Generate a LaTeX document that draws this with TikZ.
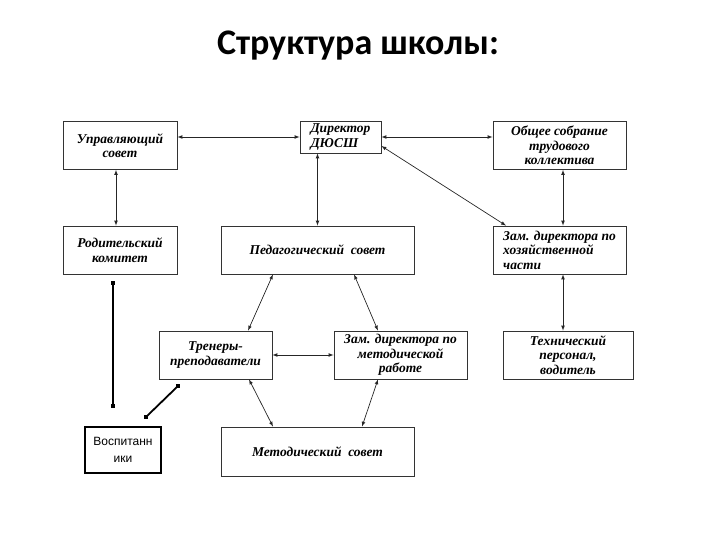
\documentclass[tikz,border=0pt]{standalone}
\usepackage{fontspec}
\setmainfont{Liberation Serif}
\newfontfamily\titlefont{Carlito}
\newfontfamily\plainfont{Liberation Sans}
\usetikzlibrary{arrows}

\begin{document}
\begin{tikzpicture}[x=1pt, y=-1pt]
					\tikzstyle{unit} = [draw=black!80, line width=0.8pt, font=\bfseries\itshape\fontsize{13.5}{14.5}\selectfont, align=center, inner sep=2pt, minimum height=48pt]
					\tikzstyle{link} = [latex-latex, black!85, line width=0.7pt]
					\tikzstyle{thickline} = [line width=1.8pt]
					\tikzstyle{endmark} = [fill=black, inner sep=0pt, minimum size=3.4pt]

					\useasboundingbox (0,0) rectangle (720,540);
					\node[font=\titlefont\bfseries\fontsize{36}{42}\selectfont] (title) at (358,46) {Структура школы:};

					\node[unit, minimum width=114pt] (upr) at (120,145.5) {Управляющий\\совет};
					\node[unit, minimum width=81pt, minimum height=32pt, align=left] (dir) at (340.5,137) {Директор\\ДЮСШ};
					\node[unit, minimum width=133pt] (obs) at (559.5,145.5) {Общее собрание\\трудового\\коллектива};
					\node[unit, minimum width=114pt] (rod) at (120,250) {Родительский\\комитет};
					\node[unit, minimum width=193pt] (ped) at (317.5,250) {Педагогический\ \ совет};
					\node[unit, minimum width=133pt, align=left] (zamh) at (559.5,250) {Зам. директора по\\хозяйственной\\части};
					\node[unit, minimum width=113pt] (tren) at (215.5,355) {Тренеры-\\преподаватели};
					\node[unit, minimum width=133pt] (zamm) at (400.5,355) {Зам. директора по\\методической\\работе};
					\node[unit, minimum width=130pt] (tech) at (568,355) {Технический\\персонал,\\водитель};
					\node[unit, minimum width=193pt, minimum height=49pt] (met) at (317.5,451.5) {Методический\ \ совет};
					\node[draw, line width=2pt, minimum width=76pt, minimum height=46pt, align=center, inner sep=2pt, font=\plainfont\fontsize{12}{17}\selectfont] (vosp) at (123,450) {Воспитанн\\ики};

					\draw[link] (upr.east |- dir.west) -- (dir.west);
					\draw[link] (dir.east) -- (obs.west |- dir.east);
					\draw[link] (dir.east |- 0,146) -- (zamh.north -| 506,0);
					\draw[link] (upr.south -| 116,0) -- (rod.north -| 116,0);
					\draw[link] (ped.north |- dir.south) -- (ped.north);
					\draw[link] (obs.south -| 563,0) -- (zamh.north -| 563,0);
					\draw[link] (zamh.south -| 563,0) -- (tech.north -| 563,0);
					\draw[link] (ped.south -| 273,0) -- (tren.north -| 248,0);
					\draw[link] (ped.south -| 354,0) -- (zamm.north -| 378,0);
					\draw[link] (tren.east) -- (zamm.west);
					\draw[link] (tren.south -| 249,0) -- (met.north -| 273,0);
					\draw[link] (zamm.south -| 378,0) -- (met.north -| 362,0);

					\coordinate (v1) at (113,283);
					\coordinate (v2) at (113,406);
					\coordinate (d1) at (178,386);
					\coordinate (d2) at (146,417);
					\draw[thickline] (v1) -- (v2);
					\draw[thickline] (d1) -- (d2);
					\node[endmark] at (v1) {};
					\node[endmark] at (v2) {};
					\node[endmark] at (d1) {};
					\node[endmark] at (d2) {};
				\end{tikzpicture}
\end{document}
